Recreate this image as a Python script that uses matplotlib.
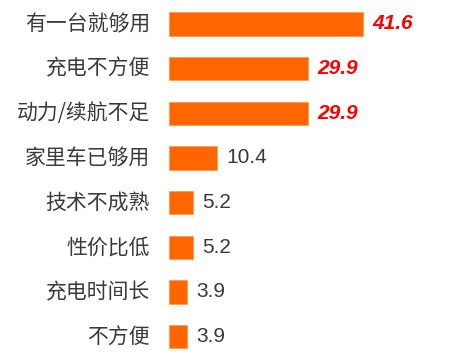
#imports
import matplotlib
matplotlib.use("Agg")
import matplotlib.pyplot as plt

#chart data, top to bottom
categories = ["有一台就够用", "充电不方便", "动力/续航不足", "家里车已够用",
              "技术不成熟", "性价比低", "充电时间长", "不方便"]
values = [41.6, 29.9, 29.9, 10.4, 5.2, 5.2, 3.9, 3.9]
highlight = [True, True, True, False, False, False, False, False]

plt.rcParams['font.family'] = ['Noto Sans CJK SC', 'DejaVu Sans']

fig = plt.figure(figsize=(4.58, 3.59), dpi=100)
ax = fig.add_axes([169 / 458, 0, 289 / 458, 1])

pos = list(range(len(categories)))
ax.barh(pos, values, height=0.52, color="#FF6600", edgecolor="#FF9955", linewidth=0.6)

ax.set_xlim(0, 62.0)
ax.set_ylim(7.5, -0.537)
ax.axis("off")

#category labels on the left
for y, lab in zip(pos, categories):
    ax.annotate(lab, xy=(0, y), xytext=(-19, 0), textcoords="offset pixels",
                ha="right", va="center", fontsize=15, color="#3a3a3a")

#value labels, top three in red bold italic
for y, v, hi in zip(pos, values, highlight):
    if hi:
        ax.annotate(f"{v:.1f}", xy=(v, y), xytext=(9, 0), textcoords="offset pixels",
                    ha="left", va="center", fontsize=15, color="#FF0000",
                    fontweight="bold", fontstyle="italic", family="Liberation Sans")
    else:
        ax.annotate(f"{v:.1f}", xy=(v, y), xytext=(9, 0), textcoords="offset pixels",
                    ha="left", va="center", fontsize=15, color="#3a3a3a",
                    family="Liberation Sans")

fig.savefig("out.png", dpi=100)
